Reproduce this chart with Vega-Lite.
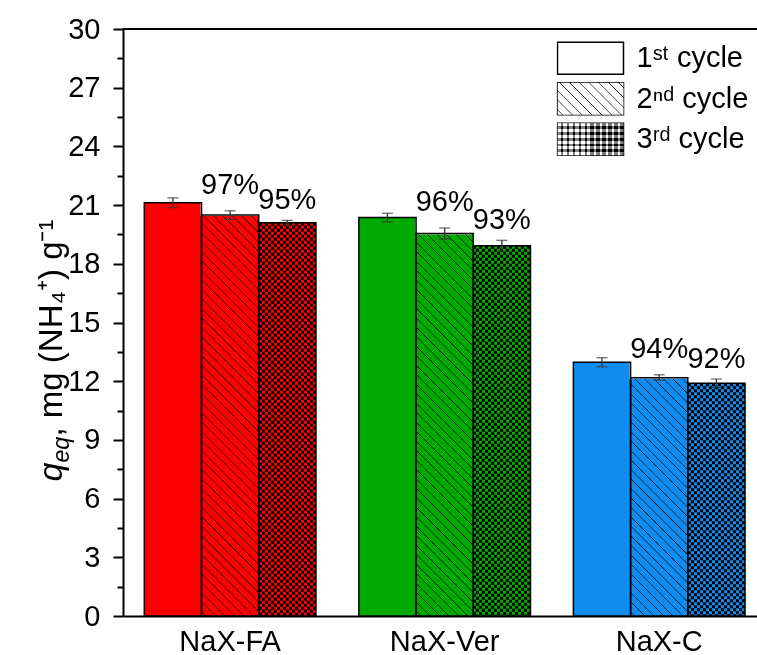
{
  "$schema": "https://vega.github.io/schema/vega-lite/v6.json",
  "width": 634,
  "height": 587,
  "autosize": "none",
  "padding": {"left": 123, "top": 29, "right": 0, "bottom": 39},
  "background": "white",
  "config": {
    "font": "Liberation Sans",
    "view": {"stroke": null},
    "axis": {"grid": false, "labelFont": "Liberation Sans", "titleFont": "Liberation Sans", "titleColor": "black", "titleFontWeight": "normal"},
    "axisX": {"title": null, "labelAngle": 0, "labelFontSize": 29, "labelColor": "black", "labelPadding": 11, "ticks": false, "domainColor": "black", "domainWidth": 2},
    "legend": {"orient": "none", "title": null, "padding": 0, "clipHeight": 40, "labelOffset": 12, "labelFontSize": 29, "labelColor": "black", "labelFont": "Liberation Sans", "symbolSize": 4356, "symbolOpacity": 1, "symbolType": "M-1,-0.485H1V0.485H-1Z", "symbolStrokeWidth": 0}
  },
  "data": {
    "values": [
      {"material": "NaX-FA", "cycle": "1st", "q": 21.12, "lo": 20.87, "hi": 21.37, "label": ""},
      {"material": "NaX-FA", "cycle": "2nd", "q": 20.49, "lo": 20.27, "hi": 20.71, "label": "97%"},
      {"material": "NaX-FA", "cycle": "3rd", "q": 20.1, "lo": 19.99, "hi": 20.22, "label": "95%"},
      {"material": "NaX-Ver", "cycle": "1st", "q": 20.36, "lo": 20.14, "hi": 20.58, "label": ""},
      {"material": "NaX-Ver", "cycle": "2nd", "q": 19.55, "lo": 19.27, "hi": 19.83, "label": "96%"},
      {"material": "NaX-Ver", "cycle": "3rd", "q": 18.92, "lo": 18.64, "hi": 19.2, "label": "93%"},
      {"material": "NaX-C", "cycle": "1st", "q": 12.97, "lo": 12.74, "hi": 13.2, "label": ""},
      {"material": "NaX-C", "cycle": "2nd", "q": 12.18, "lo": 12.05, "hi": 12.33, "label": "94%"},
      {"material": "NaX-C", "cycle": "3rd", "q": 11.89, "lo": 11.67, "hi": 12.11, "label": "92%"}
    ]
  },
  "resolve": {"axis": {"y": "independent"}},
  "layer": [
    {
      "transform": [{"filter": "datum.cycle === '1st'"}],
      "mark": {"type": "bar"},
      "encoding": {
        "x": {"field": "material", "type": "nominal", "sort": ["NaX-FA", "NaX-Ver", "NaX-C"], "scale": {"paddingInner": 0.2, "paddingOuter": 0.0776, "align": 0.64}},
        "xOffset": {"field": "cycle", "type": "nominal", "sort": ["1st", "2nd", "3rd"]},
        "y": {"field": "q", "type": "quantitative", "scale": {"domain": [0, 30], "nice": false},
          "axis": {"orient": "left", "values": [0, 3, 6, 9, 12, 15, 18, 21, 24, 27, 30], "tickSize": 10, "tickWidth": 2, "tickColor": "black", "domainColor": "black", "domainWidth": 2, "labelFontSize": 29, "labelColor": "black", "labelPadding": 13,
            "title": "q", "titleFontStyle": "italic", "titleFontSize": 34, "titleAngle": -90, "titleX": -62, "titleY": 452, "titleAlign": "left", "titleBaseline": "alphabetic"}},
        "color": {"field": "material", "type": "nominal", "scale": {"domain": ["NaX-FA", "NaX-Ver", "NaX-C"], "range": ["#ff0000", "#00aa00", "#0f8cf0"]}, "legend": null}
      }
    },
    {
      "transform": [{"filter": "datum.cycle === '2nd'"}],
      "mark": {"type": "bar"},
      "encoding": {
        "x": {"field": "material", "type": "nominal", "sort": ["NaX-FA", "NaX-Ver", "NaX-C"], "scale": {"paddingInner": 0.2, "paddingOuter": 0.0776, "align": 0.64}},
        "xOffset": {"field": "cycle", "type": "nominal", "sort": ["1st", "2nd", "3rd"]},
        "y": {"datum": 30, "axis": null},
        "y2": {"datum": 0},
        "color": {"field": "material", "type": "nominal", "scale": {"domain": ["NaX-FA", "NaX-Ver", "NaX-C"], "range": ["#ff0000", "#00aa00", "#0f8cf0"]}, "legend": null}
      }
    },
    {
      "transform": [{"filter": "datum.cycle === '2nd'"}],
      "mark": {"type": "bar", "fill": {"gradient": "linear", "x1": 1, "y1": 0, "x2": 0.8941, "y2": 1.0871, "stops": [
        {"offset":0.0062,"color":"transparent"},{"offset":0.0074,"color":"#000"},{"offset":0.0085,"color":"transparent"},
        {"offset":0.0209,"color":"transparent"},{"offset":0.0221,"color":"#000"},{"offset":0.0232,"color":"transparent"},
        {"offset":0.0356,"color":"transparent"},{"offset":0.0368,"color":"#000"},{"offset":0.0379,"color":"transparent"},
        {"offset":0.0503,"color":"transparent"},{"offset":0.0515,"color":"#000"},{"offset":0.0526,"color":"transparent"},
        {"offset":0.0650,"color":"transparent"},{"offset":0.0662,"color":"#000"},{"offset":0.0674,"color":"transparent"},
        {"offset":0.0797,"color":"transparent"},{"offset":0.0809,"color":"#000"},{"offset":0.0821,"color":"transparent"},
        {"offset":0.0944,"color":"transparent"},{"offset":0.0956,"color":"#000"},{"offset":0.0968,"color":"transparent"},
        {"offset":0.1091,"color":"transparent"},{"offset":0.1103,"color":"#000"},{"offset":0.1115,"color":"transparent"},
        {"offset":0.1238,"color":"transparent"},{"offset":0.1250,"color":"#000"},{"offset":0.1262,"color":"transparent"},
        {"offset":0.1385,"color":"transparent"},{"offset":0.1397,"color":"#000"},{"offset":0.1409,"color":"transparent"},
        {"offset":0.1532,"color":"transparent"},{"offset":0.1544,"color":"#000"},{"offset":0.1556,"color":"transparent"},
        {"offset":0.1679,"color":"transparent"},{"offset":0.1691,"color":"#000"},{"offset":0.1703,"color":"transparent"},
        {"offset":0.1827,"color":"transparent"},{"offset":0.1838,"color":"#000"},{"offset":0.1850,"color":"transparent"},
        {"offset":0.1974,"color":"transparent"},{"offset":0.1985,"color":"#000"},{"offset":0.1997,"color":"transparent"},
        {"offset":0.2121,"color":"transparent"},{"offset":0.2132,"color":"#000"},{"offset":0.2144,"color":"transparent"},
        {"offset":0.2268,"color":"transparent"},{"offset":0.2279,"color":"#000"},{"offset":0.2291,"color":"transparent"},
        {"offset":0.2415,"color":"transparent"},{"offset":0.2426,"color":"#000"},{"offset":0.2438,"color":"transparent"},
        {"offset":0.2562,"color":"transparent"},{"offset":0.2574,"color":"#000"},{"offset":0.2585,"color":"transparent"},
        {"offset":0.2709,"color":"transparent"},{"offset":0.2721,"color":"#000"},{"offset":0.2732,"color":"transparent"},
        {"offset":0.2856,"color":"transparent"},{"offset":0.2868,"color":"#000"},{"offset":0.2879,"color":"transparent"},
        {"offset":0.3003,"color":"transparent"},{"offset":0.3015,"color":"#000"},{"offset":0.3027,"color":"transparent"},
        {"offset":0.3150,"color":"transparent"},{"offset":0.3162,"color":"#000"},{"offset":0.3174,"color":"transparent"},
        {"offset":0.3297,"color":"transparent"},{"offset":0.3309,"color":"#000"},{"offset":0.3321,"color":"transparent"},
        {"offset":0.3444,"color":"transparent"},{"offset":0.3456,"color":"#000"},{"offset":0.3468,"color":"transparent"},
        {"offset":0.3591,"color":"transparent"},{"offset":0.3603,"color":"#000"},{"offset":0.3615,"color":"transparent"},
        {"offset":0.3738,"color":"transparent"},{"offset":0.3750,"color":"#000"},{"offset":0.3762,"color":"transparent"},
        {"offset":0.3885,"color":"transparent"},{"offset":0.3897,"color":"#000"},{"offset":0.3909,"color":"transparent"},
        {"offset":0.4032,"color":"transparent"},{"offset":0.4044,"color":"#000"},{"offset":0.4056,"color":"transparent"},
        {"offset":0.4179,"color":"transparent"},{"offset":0.4191,"color":"#000"},{"offset":0.4203,"color":"transparent"},
        {"offset":0.4327,"color":"transparent"},{"offset":0.4338,"color":"#000"},{"offset":0.4350,"color":"transparent"},
        {"offset":0.4474,"color":"transparent"},{"offset":0.4485,"color":"#000"},{"offset":0.4497,"color":"transparent"},
        {"offset":0.4621,"color":"transparent"},{"offset":0.4632,"color":"#000"},{"offset":0.4644,"color":"transparent"},
        {"offset":0.4768,"color":"transparent"},{"offset":0.4779,"color":"#000"},{"offset":0.4791,"color":"transparent"},
        {"offset":0.4915,"color":"transparent"},{"offset":0.4926,"color":"#000"},{"offset":0.4938,"color":"transparent"},
        {"offset":0.5062,"color":"transparent"},{"offset":0.5074,"color":"#000"},{"offset":0.5085,"color":"transparent"},
        {"offset":0.5209,"color":"transparent"},{"offset":0.5221,"color":"#000"},{"offset":0.5232,"color":"transparent"},
        {"offset":0.5356,"color":"transparent"},{"offset":0.5368,"color":"#000"},{"offset":0.5379,"color":"transparent"},
        {"offset":0.5503,"color":"transparent"},{"offset":0.5515,"color":"#000"},{"offset":0.5526,"color":"transparent"},
        {"offset":0.5650,"color":"transparent"},{"offset":0.5662,"color":"#000"},{"offset":0.5674,"color":"transparent"},
        {"offset":0.5797,"color":"transparent"},{"offset":0.5809,"color":"#000"},{"offset":0.5821,"color":"transparent"},
        {"offset":0.5944,"color":"transparent"},{"offset":0.5956,"color":"#000"},{"offset":0.5968,"color":"transparent"},
        {"offset":0.6091,"color":"transparent"},{"offset":0.6103,"color":"#000"},{"offset":0.6115,"color":"transparent"},
        {"offset":0.6238,"color":"transparent"},{"offset":0.6250,"color":"#000"},{"offset":0.6262,"color":"transparent"},
        {"offset":0.6385,"color":"transparent"},{"offset":0.6397,"color":"#000"},{"offset":0.6409,"color":"transparent"},
        {"offset":0.6532,"color":"transparent"},{"offset":0.6544,"color":"#000"},{"offset":0.6556,"color":"transparent"},
        {"offset":0.6679,"color":"transparent"},{"offset":0.6691,"color":"#000"},{"offset":0.6703,"color":"transparent"},
        {"offset":0.6827,"color":"transparent"},{"offset":0.6838,"color":"#000"},{"offset":0.6850,"color":"transparent"},
        {"offset":0.6974,"color":"transparent"},{"offset":0.6985,"color":"#000"},{"offset":0.6997,"color":"transparent"},
        {"offset":0.7121,"color":"transparent"},{"offset":0.7132,"color":"#000"},{"offset":0.7144,"color":"transparent"},
        {"offset":0.7268,"color":"transparent"},{"offset":0.7279,"color":"#000"},{"offset":0.7291,"color":"transparent"},
        {"offset":0.7415,"color":"transparent"},{"offset":0.7426,"color":"#000"},{"offset":0.7438,"color":"transparent"},
        {"offset":0.7562,"color":"transparent"},{"offset":0.7574,"color":"#000"},{"offset":0.7585,"color":"transparent"},
        {"offset":0.7709,"color":"transparent"},{"offset":0.7721,"color":"#000"},{"offset":0.7732,"color":"transparent"},
        {"offset":0.7856,"color":"transparent"},{"offset":0.7868,"color":"#000"},{"offset":0.7879,"color":"transparent"},
        {"offset":0.8003,"color":"transparent"},{"offset":0.8015,"color":"#000"},{"offset":0.8027,"color":"transparent"},
        {"offset":0.8150,"color":"transparent"},{"offset":0.8162,"color":"#000"},{"offset":0.8174,"color":"transparent"},
        {"offset":0.8297,"color":"transparent"},{"offset":0.8309,"color":"#000"},{"offset":0.8321,"color":"transparent"},
        {"offset":0.8444,"color":"transparent"},{"offset":0.8456,"color":"#000"},{"offset":0.8468,"color":"transparent"},
        {"offset":0.8591,"color":"transparent"},{"offset":0.8603,"color":"#000"},{"offset":0.8615,"color":"transparent"},
        {"offset":0.8738,"color":"transparent"},{"offset":0.8750,"color":"#000"},{"offset":0.8762,"color":"transparent"},
        {"offset":0.8885,"color":"transparent"},{"offset":0.8897,"color":"#000"},{"offset":0.8909,"color":"transparent"},
        {"offset":0.9032,"color":"transparent"},{"offset":0.9044,"color":"#000"},{"offset":0.9056,"color":"transparent"},
        {"offset":0.9179,"color":"transparent"},{"offset":0.9191,"color":"#000"},{"offset":0.9203,"color":"transparent"},
        {"offset":0.9327,"color":"transparent"},{"offset":0.9338,"color":"#000"},{"offset":0.9350,"color":"transparent"},
        {"offset":0.9474,"color":"transparent"},{"offset":0.9485,"color":"#000"},{"offset":0.9497,"color":"transparent"},
        {"offset":0.9621,"color":"transparent"},{"offset":0.9632,"color":"#000"},{"offset":0.9644,"color":"transparent"},
        {"offset":0.9768,"color":"transparent"},{"offset":0.9779,"color":"#000"},{"offset":0.9791,"color":"transparent"},
        {"offset":0.9915,"color":"transparent"},{"offset":0.9926,"color":"#000"},{"offset":0.9938,"color":"transparent"}
      ]}},
      "encoding": {
        "x": {"field": "material", "type": "nominal", "sort": ["NaX-FA", "NaX-Ver", "NaX-C"], "scale": {"paddingInner": 0.2, "paddingOuter": 0.0776, "align": 0.64}},
        "xOffset": {"field": "cycle", "type": "nominal", "sort": ["1st", "2nd", "3rd"]},
        "y": {"datum": 30, "axis": null},
        "y2": {"datum": 0}
      }
    },
    {
      "transform": [{"filter": "datum.cycle === '2nd'"}],
      "mark": {"type": "bar", "fill": "white", "stroke": "white", "strokeWidth": 2},
      "encoding": {
        "x": {"field": "material", "type": "nominal", "sort": ["NaX-FA", "NaX-Ver", "NaX-C"], "scale": {"paddingInner": 0.2, "paddingOuter": 0.0776, "align": 0.64}},
        "xOffset": {"field": "cycle", "type": "nominal", "sort": ["1st", "2nd", "3rd"]},
        "y": {"field": "q", "type": "quantitative", "axis": null},
        "y2": {"datum": 30}
      }
    },
    {
      "transform": [{"filter": "datum.cycle === '3rd'"}],
      "mark": {"type": "bar", "fill": {"gradient": "linear", "x1": 0, "y1": 0, "x2": 1, "y2": 0, "stops": [
        {"offset":0,"color":"white"},{"offset":0.05263,"color":"white"},{"offset":0.05263,"color":"black"},{"offset":0.10526,"color":"black"},
        {"offset":0.10526,"color":"white"},{"offset":0.15789,"color":"white"},{"offset":0.15789,"color":"black"},{"offset":0.21053,"color":"black"},
        {"offset":0.21053,"color":"white"},{"offset":0.26316,"color":"white"},{"offset":0.26316,"color":"black"},{"offset":0.31579,"color":"black"},
        {"offset":0.31579,"color":"white"},{"offset":0.36842,"color":"white"},{"offset":0.36842,"color":"black"},{"offset":0.42105,"color":"black"},
        {"offset":0.42105,"color":"white"},{"offset":0.47368,"color":"white"},{"offset":0.47368,"color":"black"},{"offset":0.52632,"color":"black"},
        {"offset":0.52632,"color":"white"},{"offset":0.57895,"color":"white"},{"offset":0.57895,"color":"black"},{"offset":0.63158,"color":"black"},
        {"offset":0.63158,"color":"white"},{"offset":0.68421,"color":"white"},{"offset":0.68421,"color":"black"},{"offset":0.73684,"color":"black"},
        {"offset":0.73684,"color":"white"},{"offset":0.78947,"color":"white"},{"offset":0.78947,"color":"black"},{"offset":0.84211,"color":"black"},
        {"offset":0.84211,"color":"white"},{"offset":0.89474,"color":"white"},{"offset":0.89474,"color":"black"},{"offset":0.94737,"color":"black"},
        {"offset":0.94737,"color":"white"},{"offset":1,"color":"white"}
      ]}},
      "encoding": {
        "x": {"field": "material", "type": "nominal", "sort": ["NaX-FA", "NaX-Ver", "NaX-C"], "scale": {"paddingInner": 0.2, "paddingOuter": 0.0776, "align": 0.64}},
        "xOffset": {"field": "cycle", "type": "nominal", "sort": ["1st", "2nd", "3rd"]},
        "y": {"field": "q", "type": "quantitative", "axis": null}
      }
    },
    {
      "transform": [{"filter": "datum.cycle === '3rd'"}],
      "mark": {"type": "rule", "stroke": "white", "strokeWidth": 57.2, "strokeDash": [3, 3], "blend": "difference"},
      "encoding": {
        "x": {"field": "material", "type": "nominal", "sort": ["NaX-FA", "NaX-Ver", "NaX-C"], "scale": {"paddingInner": 0.2, "paddingOuter": 0.0776, "align": 0.64}},
        "xOffset": {"field": "cycle", "type": "nominal", "sort": ["1st", "2nd", "3rd"]},
        "y": {"field": "q", "type": "quantitative", "axis": null},
        "y2": {"datum": 0}
      }
    },
    {
      "transform": [{"filter": "datum.cycle === '3rd'"}],
      "mark": {"type": "bar", "blend": "multiply"},
      "encoding": {
        "x": {"field": "material", "type": "nominal", "sort": ["NaX-FA", "NaX-Ver", "NaX-C"], "scale": {"paddingInner": 0.2, "paddingOuter": 0.0776, "align": 0.64}},
        "xOffset": {"field": "cycle", "type": "nominal", "sort": ["1st", "2nd", "3rd"]},
        "y": {"field": "q", "type": "quantitative", "axis": null},
        "color": {"field": "material", "type": "nominal", "scale": {"domain": ["NaX-FA", "NaX-Ver", "NaX-C"], "range": ["#ff0000", "#00aa00", "#0f8cf0"]}, "legend": null}
      }
    },
    {
      "mark": {"type": "bar", "fill": "transparent", "stroke": "black", "strokeWidth": 1.5},
      "encoding": {
        "x": {"field": "material", "type": "nominal", "sort": ["NaX-FA", "NaX-Ver", "NaX-C"], "scale": {"paddingInner": 0.2, "paddingOuter": 0.0776, "align": 0.64}},
        "xOffset": {"field": "cycle", "type": "nominal", "sort": ["1st", "2nd", "3rd"]},
        "y": {"field": "q", "type": "quantitative",
          "axis": {"orient": "left", "values": [1.5, 4.5, 7.5, 10.5, 13.5, 16.5, 19.5, 22.5, 25.5, 28.5], "tickSize": 6, "tickWidth": 2, "tickColor": "black", "domain": false, "labels": false,
            "title": "eq", "titleFontStyle": "italic", "titleFontSize": 23, "titleAngle": -90, "titleX": -55, "titleY": 433, "titleAlign": "left", "titleBaseline": "alphabetic"}}
      }
    },
    {
      "mark": {"type": "rule", "color": "#333333", "strokeWidth": 1.3},
      "encoding": {
        "x": {"field": "material", "type": "nominal", "sort": ["NaX-FA", "NaX-Ver", "NaX-C"], "scale": {"paddingInner": 0.2, "paddingOuter": 0.0776, "align": 0.64}},
        "xOffset": {"field": "cycle", "type": "nominal", "sort": ["1st", "2nd", "3rd"]},
        "y": {"field": "lo", "type": "quantitative", "axis": null},
        "y2": {"field": "hi"}
      }
    },
    {
      "mark": {"type": "tick", "orient": "horizontal", "size": 11, "thickness": 1.3, "color": "#333333"},
      "encoding": {
        "x": {"field": "material", "type": "nominal", "sort": ["NaX-FA", "NaX-Ver", "NaX-C"], "scale": {"paddingInner": 0.2, "paddingOuter": 0.0776, "align": 0.64}},
        "xOffset": {"field": "cycle", "type": "nominal", "sort": ["1st", "2nd", "3rd"]},
        "y": {"field": "lo", "type": "quantitative", "axis": null}
      }
    },
    {
      "mark": {"type": "tick", "orient": "horizontal", "size": 11, "thickness": 1.3, "color": "#333333"},
      "encoding": {
        "x": {"field": "material", "type": "nominal", "sort": ["NaX-FA", "NaX-Ver", "NaX-C"], "scale": {"paddingInner": 0.2, "paddingOuter": 0.0776, "align": 0.64}},
        "xOffset": {"field": "cycle", "type": "nominal", "sort": ["1st", "2nd", "3rd"]},
        "y": {"field": "hi", "type": "quantitative", "axis": null}
      }
    },
    {
      "transform": [{"filter": "datum.cycle === '2nd'"}],
      "mark": {"type": "text", "fontSize": 29, "baseline": "alphabetic", "dy": -17, "color": "black"},
      "encoding": {
        "x": {"field": "material", "type": "nominal", "sort": ["NaX-FA", "NaX-Ver", "NaX-C"], "scale": {"paddingInner": 0.2, "paddingOuter": 0.0776, "align": 0.64}},
        "xOffset": {"field": "cycle", "type": "nominal", "sort": ["1st", "2nd", "3rd"]},
        "y": {"field": "hi", "type": "quantitative", "axis": null},
        "text": {"field": "label"}
      }
    },
    {
      "transform": [{"filter": "datum.cycle === '3rd'"}],
      "mark": {"type": "text", "fontSize": 29, "baseline": "alphabetic", "dy": -11, "color": "black"},
      "encoding": {
        "x": {"field": "material", "type": "nominal", "sort": ["NaX-FA", "NaX-Ver", "NaX-C"], "scale": {"paddingInner": 0.2, "paddingOuter": 0.0776, "align": 0.64}},
        "xOffset": {"field": "cycle", "type": "nominal", "sort": ["1st", "2nd", "3rd"]},
        "y": {"field": "hi", "type": "quantitative", "axis": null},
        "text": {"field": "label"}
      }
    },
    {
      "transform": [{"filter": "datum.material === 'NaX-FA' && datum.cycle === '1st'"}],
      "mark": {"type": "rule", "color": "black", "strokeWidth": 2},
      "encoding": {
        "y": {"datum": 30, "axis": {"orient": "left", "ticks": false, "labels": false, "domain": false,
          "title": ", mg (NH\u2084\u207A) g\u207B\u00B9", "titleFontSize": 33, "titleAngle": -90, "titleX": -62, "titleY": 407, "titleAlign": "left", "titleBaseline": "alphabetic"}}
      }
    },
    {
      "transform": [{"filter": "false"}],
      "mark": {"type": "point", "filled": true, "fill": "white"},
      "encoding": {
        "y": {"field": "q", "type": "quantitative", "axis": null},
        "stroke": {"field": "cycle", "type": "nominal", "scale": {"domain": ["1st", "2nd", "3rd"], "range": ["black", "black", "black"]},
          "legend": {"legendX": 433.5, "legendY": 9.2, "rowPadding": 0.5, "symbolStrokeWidth": 1.5,
            "labelExpr": "datum.value === '1st' ? '1\u02E2\u1D57 cycle' : datum.value === '2nd' ? '2\u207F\u1D48 cycle' : '3\u02B3\u1D48 cycle'"}}
      }
    },
    {
      "transform": [{"filter": "false"}],
      "mark": {"type": "point", "filled": true, "shape": "M-1,-0.485H1V0.485H-1Z",
        "fill": {"gradient": "linear", "x1": 1, "y1": 0, "x2": -0.2022, "y2": 0.5829, "stops": [
          {"offset":0.042,"color":"white"},{"offset":0.05,"color":"black"},{"offset":0.058,"color":"white"},
          {"offset":0.142,"color":"white"},{"offset":0.15,"color":"black"},{"offset":0.158,"color":"white"},
          {"offset":0.242,"color":"white"},{"offset":0.25,"color":"black"},{"offset":0.258,"color":"white"},
          {"offset":0.342,"color":"white"},{"offset":0.35,"color":"black"},{"offset":0.358,"color":"white"},
          {"offset":0.442,"color":"white"},{"offset":0.45,"color":"black"},{"offset":0.458,"color":"white"},
          {"offset":0.542,"color":"white"},{"offset":0.55,"color":"black"},{"offset":0.558,"color":"white"},
          {"offset":0.642,"color":"white"},{"offset":0.65,"color":"black"},{"offset":0.658,"color":"white"},
          {"offset":0.742,"color":"white"},{"offset":0.75,"color":"black"},{"offset":0.758,"color":"white"},
          {"offset":0.842,"color":"white"},{"offset":0.85,"color":"black"},{"offset":0.858,"color":"white"},
          {"offset":0.942,"color":"white"},{"offset":0.95,"color":"black"},{"offset":0.958,"color":"white"}
        ]}},
      "encoding": {
        "y": {"field": "q", "type": "quantitative", "axis": null},
        "strokeDash": {"field": "cycle", "type": "nominal", "scale": {"domain": ["2nd"], "range": [[1, 0]]},
          "legend": {"legendX": 434.5, "legendY": 49.7, "labelExpr": "''"}}
      }
    },
    {
      "transform": [{"filter": "false"}],
      "mark": {"type": "point", "filled": true, "shape": "M-1,-0.485H1V0.485H-1Z",
        "fill": {"gradient": "linear", "x1": 0, "y1": 0, "x2": 1, "y2": 0, "stops": [
          {"offset":0,"color":"white"},{"offset":0.0455,"color":"white"},{"offset":0.0455,"color":"black"},{"offset":0.0909,"color":"black"},
          {"offset":0.0909,"color":"white"},{"offset":0.1364,"color":"white"},{"offset":0.1364,"color":"black"},{"offset":0.1818,"color":"black"},
          {"offset":0.1818,"color":"white"},{"offset":0.2273,"color":"white"},{"offset":0.2273,"color":"black"},{"offset":0.2727,"color":"black"},
          {"offset":0.2727,"color":"white"},{"offset":0.3182,"color":"white"},{"offset":0.3182,"color":"black"},{"offset":0.3636,"color":"black"},
          {"offset":0.3636,"color":"white"},{"offset":0.4091,"color":"white"},{"offset":0.4091,"color":"black"},{"offset":0.4545,"color":"black"},
          {"offset":0.4545,"color":"white"},{"offset":0.5,"color":"white"},{"offset":0.5,"color":"black"},{"offset":0.5455,"color":"black"},
          {"offset":0.5455,"color":"white"},{"offset":0.5909,"color":"white"},{"offset":0.5909,"color":"black"},{"offset":0.6364,"color":"black"},
          {"offset":0.6364,"color":"white"},{"offset":0.6818,"color":"white"},{"offset":0.6818,"color":"black"},{"offset":0.7273,"color":"black"},
          {"offset":0.7273,"color":"white"},{"offset":0.7727,"color":"white"},{"offset":0.7727,"color":"black"},{"offset":0.8182,"color":"black"},
          {"offset":0.8182,"color":"white"},{"offset":0.8636,"color":"white"},{"offset":0.8636,"color":"black"},{"offset":0.9091,"color":"black"},
          {"offset":0.9091,"color":"white"},{"offset":0.9545,"color":"white"},{"offset":0.9545,"color":"black"},{"offset":1,"color":"black"}
        ]}},
      "encoding": {
        "y": {"field": "q", "type": "quantitative", "axis": null},
        "size": {"field": "cycle", "type": "ordinal", "scale": {"domain": ["3rd"], "range": [4356, 4356]},
          "legend": {"legendX": 434.5, "legendY": 90.2, "labelExpr": "''"}}
      }
    },
    {
      "transform": [{"filter": "false"}],
      "mark": {"type": "point", "filled": true, "shape": "M-1,-0.485H1V0.485H-1Z",
        "fill": {"gradient": "linear", "x1": 0, "y1": 0, "x2": 0, "y2": 1, "stops": [
          {"offset":0,"color":"white"},{"offset":0.0909,"color":"white"},{"offset":0.0909,"color":"black"},{"offset":0.1818,"color":"black"},
          {"offset":0.1818,"color":"white"},{"offset":0.2727,"color":"white"},{"offset":0.2727,"color":"black"},{"offset":0.3636,"color":"black"},
          {"offset":0.3636,"color":"white"},{"offset":0.4545,"color":"white"},{"offset":0.4545,"color":"black"},{"offset":0.5455,"color":"black"},
          {"offset":0.5455,"color":"white"},{"offset":0.6364,"color":"white"},{"offset":0.6364,"color":"black"},{"offset":0.7273,"color":"black"},
          {"offset":0.7273,"color":"white"},{"offset":0.8182,"color":"white"},{"offset":0.8182,"color":"black"},{"offset":0.9091,"color":"black"},
          {"offset":0.9091,"color":"white"},{"offset":1,"color":"white"}
        ]}},
      "encoding": {
        "y": {"field": "q", "type": "quantitative", "axis": null},
        "opacity": {"field": "cycle", "type": "ordinal", "scale": {"domain": ["x"], "range": [0.5, 0.5]},
          "legend": {"legendX": 434.5, "legendY": 90.2, "labelExpr": "''"}}
      }
    }
  ]
}
